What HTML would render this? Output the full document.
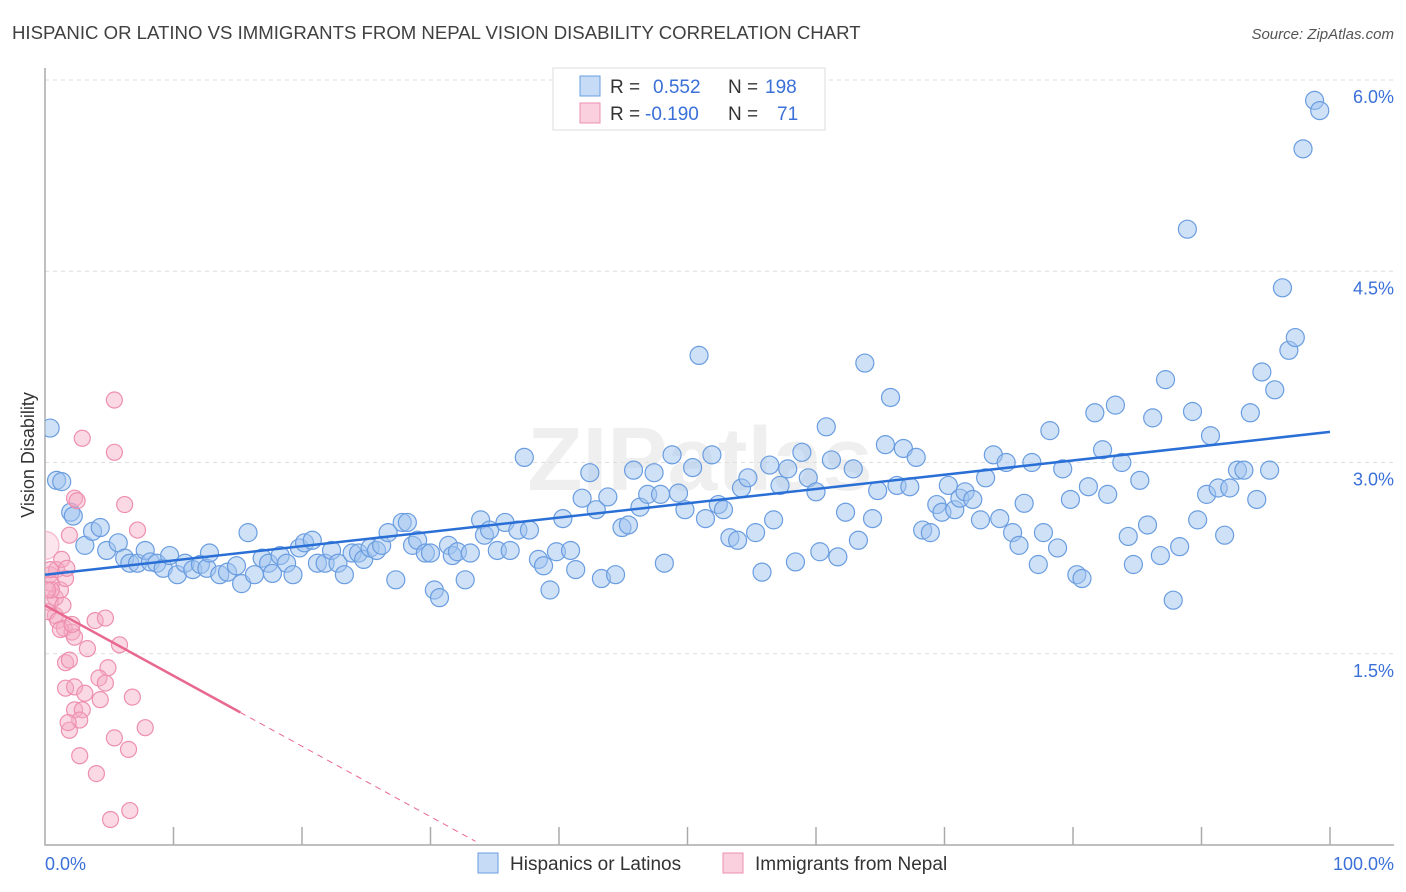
<!DOCTYPE html>
<html><head><meta charset="utf-8"><style>
body{margin:0;background:#fff;font-family:"Liberation Sans",sans-serif}
svg{display:block}
</style></head><body>
<svg id="chart" width="1406" height="892">
<defs><clipPath id="plotclip"><rect x="45" y="60" width="1360" height="785"/></clipPath></defs>
<text x="12" y="39" font-size="18.6" fill="#404040">HISPANIC OR LATINO VS IMMIGRANTS FROM NEPAL VISION DISABILITY CORRELATION CHART</text>
<text x="1394" y="39" font-size="15" fill="#555" font-style="italic" text-anchor="end">Source: ZipAtlas.com</text>
<text x="700" y="490" font-size="90" fill="#efefef" text-anchor="middle" font-weight="bold">ZIPatlas</text>
<text transform="translate(34,455) rotate(-90)" font-size="18" fill="#333" text-anchor="middle">Vision Disability</text>
<g id="grid"></g><g id="pts" clip-path="url(#plotclip)"></g><g id="lines"></g>
<g>
<rect x="553" y="68" width="272" height="62" fill="#fff" stroke="#ddd"/>
<rect x="580" y="76" width="20" height="20" fill="rgba(160,196,240,0.6)" stroke="#6a9de0"/>
<rect x="580" y="103" width="20" height="20" fill="rgba(245,170,195,0.55)" stroke="#ee8fb0"/>
<text x="610" y="93" font-size="19" fill="#333">R = <tspan fill="#3a70d8" x="653">0.552</tspan><tspan x="728" fill="#333">N =</tspan><tspan x="765" fill="#3a70d8">198</tspan></text>
<text x="610" y="120" font-size="19" fill="#333">R = <tspan fill="#3a70d8" x="645">-0.190</tspan><tspan x="728" fill="#333">N =</tspan><tspan x="777" fill="#3a70d8">71</tspan></text>
</g>
<g>
<rect x="478" y="853" width="20" height="20" fill="rgba(160,196,240,0.6)" stroke="#6a9de0"/>
<text x="510" y="870" font-size="19" fill="#333">Hispanics or Latinos</text>
<rect x="723" y="853" width="20" height="20" fill="rgba(245,170,195,0.55)" stroke="#ee8fb0"/>
<text x="755" y="870" font-size="19" fill="#333">Immigrants from Nepal</text>
</g>
</svg>
<script>
const blueX=[0.4,0.9,1.3,2.0,2.2,3.1,3.7,4.3,4.8,5.7,6.2,6.6,7.2,7.8,8.2,8.7,9.2,9.7,10.3,10.9,11.5,12.1,12.6,12.8,13.6,14.2,14.9,15.3,15.8,16.3,16.9,17.4,17.7,18.3,18.8,19.3,19.8,20.2,20.8,21.2,21.8,22.3,22.8,23.3,23.9,24.4,24.8,25.3,25.8,26.2,26.7,27.3,27.8,28.2,28.6,29.0,29.6,30.0,30.3,30.7,31.4,31.7,32.1,32.7,33.1,33.9,34.2,34.6,35.2,35.8,36.2,36.8,37.3,37.7,38.4,38.8,39.3,39.8,40.3,40.9,41.3,41.8,42.4,42.9,43.3,43.8,44.4,44.9,45.4,45.8,46.3,46.9,47.4,47.9,48.2,48.8,49.3,49.8,50.4,50.9,51.4,51.9,52.4,52.8,53.3,53.9,54.2,54.7,55.3,55.8,56.4,56.7,57.2,57.8,58.4,58.9,59.4,60.0,60.3,60.8,61.2,61.7,62.3,62.9,63.3,63.8,64.4,64.8,65.4,65.8,66.3,66.8,67.3,67.8,68.3,68.9,69.4,69.8,70.3,70.8,71.2,71.6,72.2,72.8,73.2,73.8,74.3,74.8,75.3,75.8,76.2,76.8,77.3,77.7,78.2,78.8,79.2,79.8,80.3,80.7,81.2,81.7,82.3,82.7,83.3,83.8,84.3,84.7,85.2,85.8,86.2,86.8,87.2,87.8,88.3,88.9,89.3,89.7,90.4,90.7,91.3,91.8,92.2,92.8,93.3,93.8,94.3,94.7,95.3,95.7,96.3,96.8,97.3,97.9,98.8,99.2];
const blueY=[3.27,2.86,2.85,2.61,2.58,2.35,2.46,2.49,2.31,2.37,2.25,2.21,2.21,2.31,2.22,2.21,2.17,2.27,2.12,2.21,2.16,2.2,2.17,2.29,2.12,2.14,2.19,2.05,2.45,2.12,2.25,2.21,2.13,2.27,2.21,2.12,2.33,2.37,2.39,2.21,2.21,2.31,2.21,2.12,2.29,2.29,2.24,2.33,2.31,2.35,2.45,2.08,2.53,2.53,2.35,2.39,2.29,2.29,2.0,1.94,2.35,2.27,2.3,2.08,2.29,2.55,2.43,2.47,2.31,2.53,2.31,2.47,3.04,2.47,2.24,2.19,2.0,2.3,2.56,2.31,2.16,2.72,2.92,2.63,2.09,2.73,2.12,2.49,2.51,2.94,2.65,2.75,2.92,2.75,2.21,3.06,2.76,2.63,2.96,3.84,2.56,3.06,2.67,2.63,2.41,2.39,2.8,2.88,2.45,2.14,2.98,2.55,2.82,2.95,2.22,3.08,2.88,2.77,2.3,3.28,3.02,2.26,2.61,2.95,2.39,3.78,2.56,2.78,3.14,3.51,2.82,3.11,2.81,3.04,2.47,2.45,2.67,2.61,2.82,2.63,2.72,2.77,2.71,2.55,2.88,3.06,2.56,3.0,2.45,2.35,2.68,3.0,2.2,2.45,3.25,2.33,2.95,2.71,2.12,2.09,2.81,3.39,3.1,2.75,3.45,3.0,2.42,2.2,2.86,2.51,3.35,2.27,3.65,1.92,2.34,4.83,3.4,2.55,2.75,3.21,2.8,2.43,2.8,2.94,2.94,3.39,2.71,3.71,2.94,3.57,4.37,3.88,3.98,5.46,5.84,5.76];
const pinkX=[0.0,0.4,0.5,0.8,0.4,0.8,0.9,1.2,1.3,1.6,1.4,1.7,1.9,0.5,0.2,1.0,1.5,2.3,2.5,2.9,5.4,5.4,6.2,7.2,3.9,4.7,2.1,2.3,3.3,5.8,1.6,1.9,4.9,4.2,4.7,1.6,2.3,3.1,4.3,6.8,2.3,2.9,1.9,2.7,1.8,7.8,5.4,6.5,2.7,4.0,6.6,5.1,0.4,0.2,1.2,2.1];
const pinkY=[2.35,2.12,2.05,1.94,1.9,1.8,2.16,2.0,2.24,2.09,1.88,2.17,2.43,2.0,1.83,1.76,1.7,2.72,2.7,3.19,3.49,3.08,2.67,2.47,1.76,1.78,1.67,1.63,1.54,1.57,1.43,1.45,1.39,1.31,1.27,1.23,1.24,1.19,1.14,1.16,1.06,1.06,0.9,0.98,0.96,0.92,0.84,0.75,0.7,0.56,0.27,0.2,2.16,2.0,1.69,1.73];
const blueTrendX=[0,100], blueTrendY=[2.12,3.24];
const pinkTrendX=[0,15.2], pinkTrendY=[1.88,1.04], pinkDashEndX=[33.5];
const yTicks=[1.5,3.0,4.5,6.0], yTickLabels=["1.5%","3.0%","4.5%","6.0%"];
const xTicks=[10,20,30,40,50,60,70,80,90,100];

const X=v=>45+v*12.85, Y=v=>80+(6-v)*127.5;
const NS="http://www.w3.org/2000/svg";
function mk(t,a,p){const e=document.createElementNS(NS,t);for(const k in a)e.setAttribute(k,a[k]);p.appendChild(e);return e;}
const grid=document.getElementById('grid'),pts=document.getElementById('pts'),lines=document.getElementById('lines');
yTicks.forEach((v,i)=>{
  const l=mk('line',{x1:45,x2:1394,y1:Y(v),y2:Y(v),stroke:'#ddd','stroke-dasharray':'4,4'},grid);
  
  
  const t=mk('text',{x:1394,y:Y(v)+23,'font-size':18,fill:'#3a70d8','text-anchor':'end'},grid);
  t.textContent=yTickLabels[i];
  
  
});
const ax=mk('path',{d:'M45,68 V845 H1394',fill:'none',stroke:'#aaa','stroke-width':1.5},grid);


xTicks.forEach(v=>{
  const l=mk('line',{x1:X(v),x2:X(v),y1:827,y2:845,stroke:'#aaa','stroke-width':1.5},grid);
  
  
});
[[0,'0.0%','start',45],[100,'100.0%','end',1394]].forEach(a=>{
  const t=mk('text',{x:a[3],y:870,'font-size':18,fill:'#3a70d8','text-anchor':a[2]},grid);
  t.textContent=a[1];
  
  
});
blueX.forEach((x,i)=>{
  const c=mk('circle',{cx:X(x),cy:Y(blueY[i]),r:9,fill:'rgba(160,196,240,0.5)',stroke:'#6a9de0','stroke-width':1.2},pts);
  
  
});
pinkX.forEach((x,i)=>{
  const big=i===0;
  const c=mk('circle',{cx:X(x),cy:Y(pinkY[i]),r:big?14:8,fill:big?'rgba(245,170,195,0.3)':'rgba(245,170,195,0.45)',stroke:big?'#f4b5c9':'#ee8fb0','stroke-width':1.2},pts);
  
  
});
const bl=mk('line',{x1:X(blueTrendX[0]),y1:Y(blueTrendY[0]),x2:X(blueTrendX[1]),y2:Y(blueTrendY[1]),stroke:'#2a6fd6','stroke-width':2.5},lines);


const pl=mk('line',{x1:X(pinkTrendX[0]),y1:Y(pinkTrendY[0]),x2:X(pinkTrendX[1]),y2:Y(pinkTrendY[1]),stroke:'#e8688f','stroke-width':2.5},lines);


const slope=(pinkTrendY[1]-pinkTrendY[0])/(pinkTrendX[1]-pinkTrendX[0]);
const pd=mk('line',{x1:X(pinkTrendX[1]),y1:Y(pinkTrendY[1]),x2:X(pinkDashEndX[0]),y2:Y(pinkTrendY[0]+slope*pinkDashEndX[0]),stroke:'#e8688f','stroke-width':1,'stroke-dasharray':'6,5'},lines);


</script>
</body></html>
